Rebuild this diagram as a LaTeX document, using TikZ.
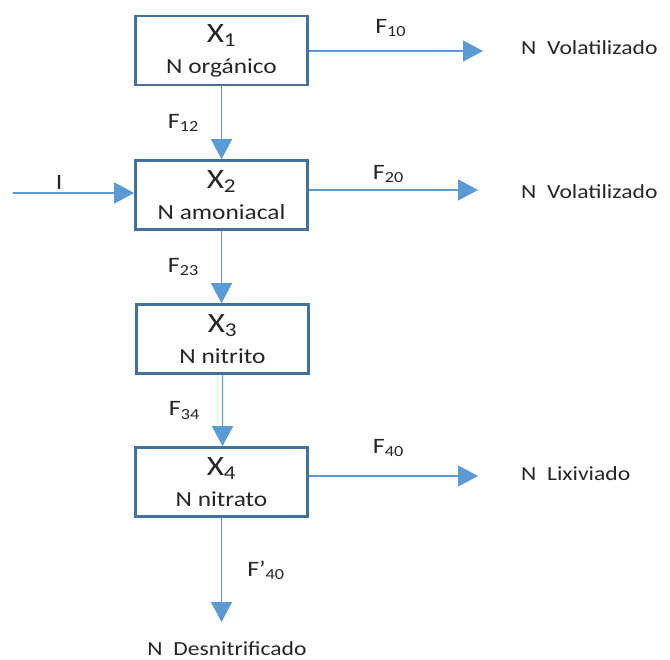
\documentclass[tikz,border=0pt]{standalone}
\usepackage{fontspec}
\setmainfont{Carlito}[FakeStretch=1.18]
\usetikzlibrary{arrows.meta}
\definecolor{poolblue}{HTML}{41719C}
\definecolor{flowblue}{HTML}{5B9BD5}

\begin{document}
\begin{tikzpicture} [
                x=1pt,
                y=-1pt,
                pool/.style = {draw=poolblue, line width=2.6pt, minimum width=172pt, minimum height=69pt,
                               inner sep=0pt, align=center, text=black!85, font=\fontsize{21.5}{31}\selectfont},
                flow/.style = {draw=flowblue, line width=1.5pt, -{Triangle[length=20pt,width=21pt]}},
                rate/.style = {inner sep=0pt, text=black!85, font=\fontsize{22}{26}\selectfont},
                sink/.style = {anchor=base west, inner sep=0pt, text=black!85, font=\fontsize{20}{24}\selectfont}
            ]
            \useasboundingbox (0,0) rectangle (670,660);
            % First we draw the pools
            \foreach \pos/\name/\sub/\txt in {
                {(221.5,50.5)/x1/1/N orgánico}, {(221.5,195)/x2/2/N amoniacal},
                {(222.5,339)/x3/3/N nitrito}, {(221.5,482)/x4/4/N nitrato}}
                \node[pool] (\name) at \pos {{\fontsize{28}{31}\selectfont X\textsubscript{\sub}}\\ \txt};
            % where the nitrogen goes
            \node[sink] (v1) at (521,55) {N\ \ Volatilizado};
            \node[sink] (v2) at (521,199) {N\ \ Volatilizado};
            \node[sink] (l4) at (521,481) {N\ \ Lixiviado};
            \node[sink, anchor=base] (d4) at (227,655) {N\ \ Desnitrificado};
            \coordinate (src) at (13,193);
            \coordinate (t10) at (483,51);
            \coordinate (t20) at (478,190);
            \coordinate (t40) at (478,476);
            \coordinate (t4d) at (221.5,622);
            % Connect pools with flows and draw rates
            \foreach \from/\to/\lab in {x1/x2/12, x2/x3/23, x3/x4/34}
                {\path[flow] (\from.south) -- node[rate, left=22pt] {F\textsubscript{\lab}} (\from.south |- \to.north);}
            \foreach \from/\to/\lab/\gap in {x1/t10/10/14pt, x2/t20/20/7pt, x4/t40/40/19pt}
                {\path[flow] (\from.east |- \to) -- node[rate, above=\gap, pos=0.47] {F\textsubscript{\lab}} (\to);}
            \path[flow] (x4.south) -- node[rate, right=25pt] {F’\textsubscript{40}} (t4d);
            \path[flow] (src) -- node[rate, above=3pt, pos=0.38] {I} (src -| x2.west);
        \end{tikzpicture}
\end{document}
